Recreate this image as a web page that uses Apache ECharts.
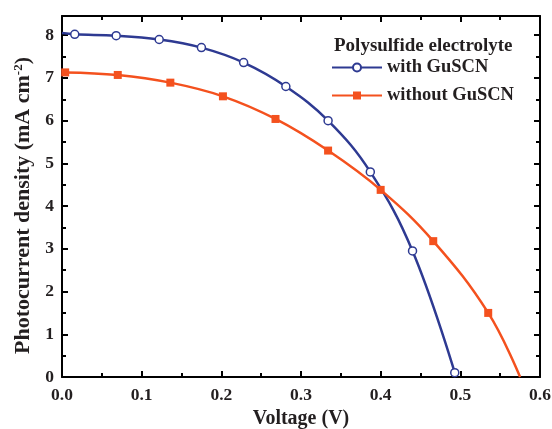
<!DOCTYPE html>
<html>
<head>
<meta charset="utf-8">
<script src="https://cdn.jsdelivr.net/npm/echarts@6/dist/echarts.min.js"></script>
<style>
html, body { margin: 0; padding: 0; background: #fff; }
#main { width: 552px; height: 429px; }
</style>
</head>
<body>
<div id="main"></div>
<script>
// with GuSCN (open circles); first point is curve start, no marker
var withX = [0, 0.016, 0.068, 0.122, 0.175, 0.228, 0.281, 0.334, 0.387, 0.440, 0.493];
var withY = [8.05, 8.02, 7.99, 7.90, 7.71, 7.36, 6.80, 6.00, 4.80, 2.95, 0.10];
// without GuSCN (filled squares); last point is curve end, no marker
var withoutX = [0.004, 0.070, 0.136, 0.202, 0.268, 0.334, 0.400, 0.466, 0.535, 0.575];
var withoutY = [7.13, 7.07, 6.89, 6.57, 6.04, 5.30, 4.38, 3.18, 1.50, 0];
var xTicks = ['0.0', '0.1', '0.2', '0.3', '0.4', '0.5', '0.6'];

var font = 'Liberation Serif';
var blue = '#2E3A92';
var orange = '#F4511E';

function pairs(xs, ys, hideIdx) {
	var out = [];
	for (var i = 0; i < xs.length; i++) {
		var p = { value: [xs[i], ys[i]] };
		if (i === hideIdx) p.symbol = 'none';
		out.push(p);
	}
	return out;
}

var mychart = echarts.init(document.getElementById('main'));

var axisLine = { show: true, onZero: false, lineStyle: { color: '#000', width: 2 } };

var option = {
	animation: false,
	textStyle: { fontFamily: font },
	title: {
		text: 'Polysulfide electrolyte',
		left: 329,
		top: 32,
		textStyle: { fontFamily: font, fontWeight: 'bold', fontSize: 19, color: '#231F20' }
	},
	legend: {
		orient: 'vertical',
		left: 326,
		top: 53,
		itemWidth: 50,
		itemHeight: 10,
		itemGap: 9,
		textStyle: { fontFamily: font, fontWeight: 'bold', fontSize: 18.5, color: '#231F20' },
		data: ['with GuSCN', 'without GuSCN']
	},
	grid: { left: 62, right: 12, top: 16, bottom: 52, outerBoundsMode: 'none' },
	xAxis: [{
		type: 'value',
		min: 0,
		max: 0.6,
		interval: 0.1,
		name: 'Voltage (V)',
		nameLocation: 'middle',
		nameGap: 28,
		nameTextStyle: { fontFamily: font, fontWeight: 'bold', fontSize: 20, color: '#231F20' },
		axisLine: axisLine,
		axisTick: { inside: true, length: 6, lineStyle: { width: 2, color: '#000' } },
		minorTick: { show: true, splitNumber: 2, length: 4, lineStyle: { width: 2, color: '#000' } },
		axisLabel: {
			fontFamily: font, fontWeight: 'bold', fontSize: 17.5, color: '#231F20', margin: 9,
			formatter: function(v) { return xTicks[Math.round(v * 10)]; }
		},
		splitLine: { show: false }
	}, {
		type: 'value',
		position: 'top',
		min: 0,
		max: 0.6,
		interval: 0.1,
		axisLine: axisLine,
		axisTick: { inside: true, length: 6, lineStyle: { width: 2, color: '#000' } },
		minorTick: { show: true, splitNumber: 2, length: 4, lineStyle: { width: 2, color: '#000' } },
		axisLabel: { show: false },
		splitLine: { show: false }
	}],
	yAxis: [{
		type: 'value',
		min: 0,
		max: 8.45,
		interval: 1,
		name: '{a|Photocurrent density (mA cm}{s|-2}{a|)}',
		nameLocation: 'middle',
		nameGap: 22,
		nameTextStyle: {
			padding: [0, 18, 0, 0],
			rich: {
				a: { fontFamily: font, fontWeight: 'bold', fontSize: 22, color: '#231F20' },
				s: { fontFamily: font, fontWeight: 'bold', fontSize: 13, color: '#231F20', verticalAlign: 'top', padding: [0, 0, 9, 0] }
			}
		},
		axisLine: axisLine,
		axisTick: { inside: true, length: 6, lineStyle: { width: 2, color: '#000' } },
		minorTick: { show: true, splitNumber: 2, length: 4, lineStyle: { width: 2, color: '#000' } },
		axisLabel: { fontFamily: font, fontWeight: 'bold', fontSize: 17.5, color: '#231F20', margin: 8, showMaxLabel: false },
		splitLine: { show: false }
	}, {
		type: 'value',
		position: 'right',
		min: 0,
		max: 8.45,
		interval: 1,
		axisLine: axisLine,
		axisTick: { inside: true, length: 6, lineStyle: { width: 2, color: '#000' } },
		minorTick: { show: true, splitNumber: 2, length: 4, lineStyle: { width: 2, color: '#000' } },
		axisLabel: { show: false },
		splitLine: { show: false }
	}],
	series: [{
		name: 'with GuSCN',
		type: 'line',
		smooth: 0.4,
		symbol: 'circle',
		symbolSize: 8,
		showAllSymbol: true,
		lineStyle: { color: blue, width: 2.5 },
		itemStyle: { color: '#fff', borderColor: blue, borderWidth: 1.5 },
		data: pairs(withX, withY, 0)
	}, {
		name: 'without GuSCN',
		type: 'line',
		smooth: 0.4,
		symbol: 'rect',
		symbolSize: 8,
		showAllSymbol: true,
		lineStyle: { color: orange, width: 2.5 },
		itemStyle: { color: orange },
		data: pairs(withoutX, withoutY, withoutX.length - 1)
	}]
};
mychart.setOption(option);
</script>
</body>
</html>
